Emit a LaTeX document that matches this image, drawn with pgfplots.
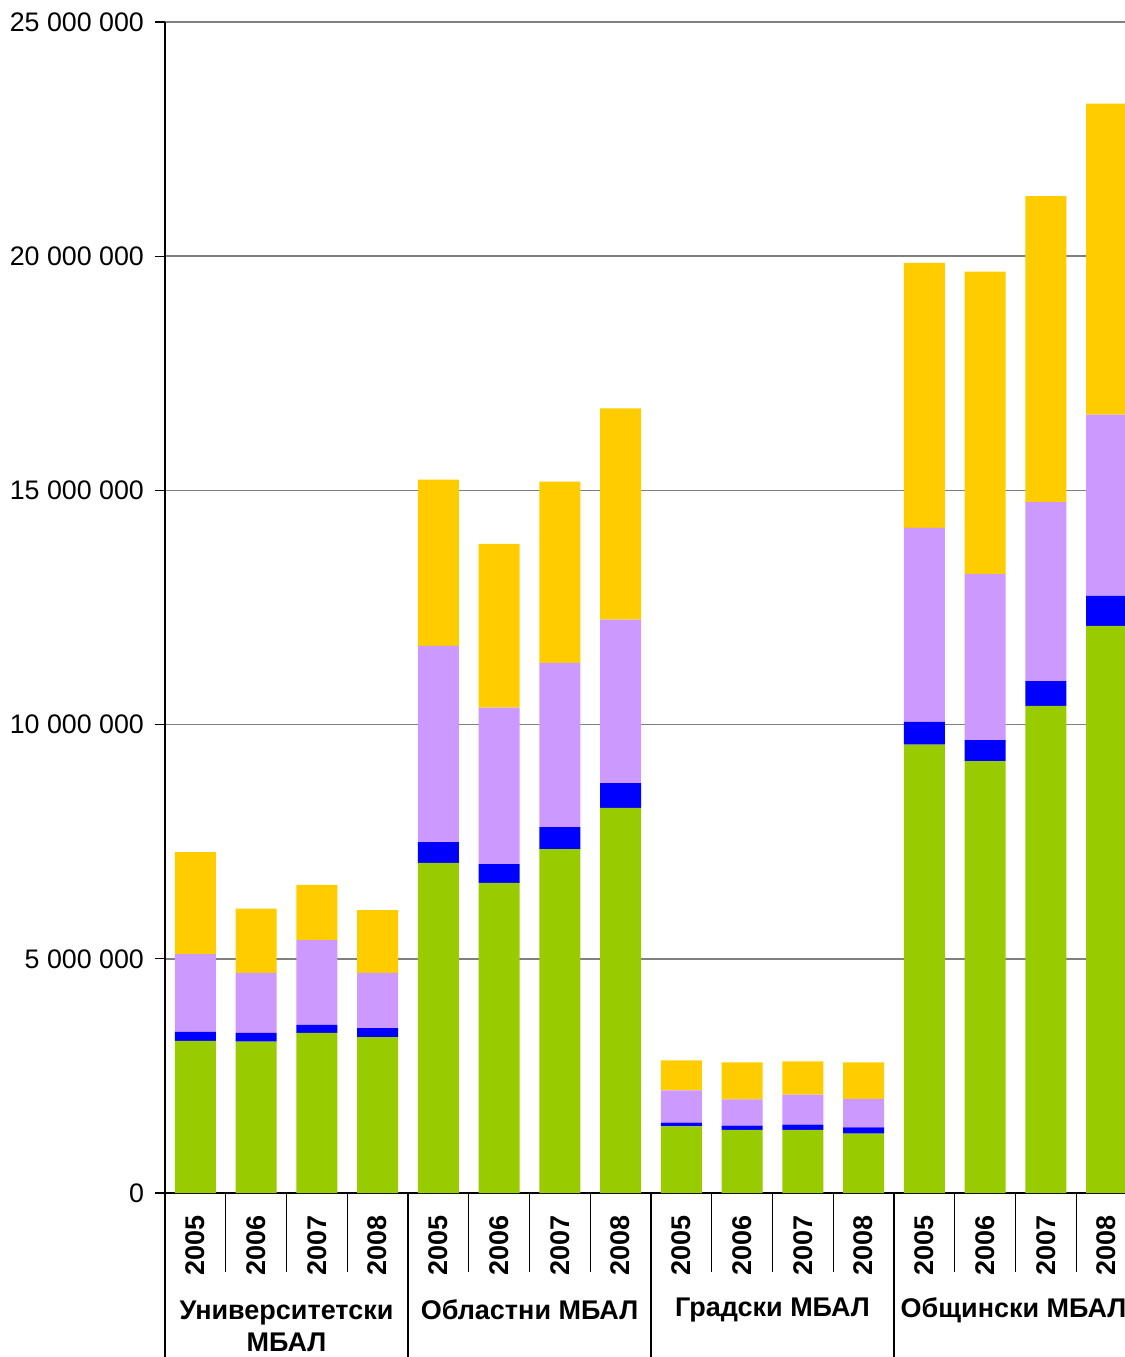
\documentclass[border=0pt]{standalone}
\usepackage{pgfplots}
\pgfplotsset{compat=1.18}
\usepackage{pgfplotstable}
\usepackage{fontspec}
\setmainfont{Liberation Sans}
\definecolor{cgreen}{HTML}{99CC00}
\definecolor{cblue}{HTML}{0000FF}
\definecolor{cpurple}{HTML}{CC99FF}
\definecolor{cyellow}{HTML}{FFCC00}
\definecolor{cgrid}{HTML}{808080}
\pgfplotstableread{
x green blue purple yellow
0 3250000 190000 1660000 2180000
1 3230000 190000 1280000 1370000
2 3420000 170000 1810000 1180000
3 3330000 190000 1180000 1340000
4 7050000 440000 4190000 3550000
5 6620000 400000 3340000 3500000
6 7340000 470000 3510000 3870000
7 8220000 530000 3490000 4510000
8 1420000 80000 690000 640000
9 1350000 90000 560000 790000
10 1350000 110000 640000 710000
11 1270000 130000 610000 780000
12 9570000 490000 4140000 5660000
13 9220000 450000 3540000 6460000
14 10400000 530000 3820000 6530000
15 12110000 640000 3870000 6640000
}\data
\begin{document}
\begin{tikzpicture}
\path[use as bounding box] (-82.5pt,-82pt) rectangle (480pt,596.5pt);
\begin{axis}[
  at={(0,0)}, anchor=south west,
  scale only axis, width=486pt, height=585.5pt,
  clip=false,
  xmin=-0.5, xmax=15.5, ymin=0, ymax=25000000,
  ybar stacked, bar width=20.5pt,
  axis x line*=bottom, axis y line*=left,
  axis line style={black, line width=0.6pt},
  ytick={0,5000000,10000000,15000000,20000000,25000000},
  yticklabels={0,5 000 000,10 000 000,15 000 000,20 000 000,25 000 000},
  ytick align=outside, major tick length=5pt,
  ytick style={black, line width=0.6pt},
  yticklabel style={font=\fontsize{13.4}{15}\selectfont, xshift=-2pt},
  ymajorgrids, major grid style={cgrid, line width=0.7pt},
  xtick={0,...,15},
  xticklabels={2005,2006,2007,2008,2005,2006,2007,2008,2005,2006,2007,2008,2005,2006,2007,2008},
  xtick style={draw=none},
  xticklabel style={rotate=90, anchor=east, xshift=-7.5pt, font=\bfseries\fontsize{13.5}{15}\selectfont},
]
\addplot[fill=cgreen, draw=none] table[x=x, y=green] {\data};
\addplot[fill=cblue, draw=none] table[x=x, y=blue] {\data};
\addplot[fill=cpurple, draw=none] table[x=x, y=purple] {\data};
\addplot[fill=cyellow, draw=none] table[x=x, y=yellow] {\data};
\pgfplotsinvokeforeach{0.5,1.5,2.5,4.5,5.5,6.5,8.5,9.5,10.5,12.5,13.5,14.5}{
  \draw[black, line width=0.5pt] (axis cs:#1,0) -- ([yshift=-39.5pt]axis cs:#1,0);
}
\pgfplotsinvokeforeach{-0.5,3.5,7.5,11.5}{
  \draw[black, line width=0.6pt] (axis cs:#1,0) -- ([yshift=-82pt]axis cs:#1,0);
}
\node[font=\bfseries\fontsize{13.5}{16}\selectfont, align=center, yshift=-66.5pt] at (axis cs:1.5,0) {Университетски\\МБАЛ};
\node[font=\bfseries\fontsize{13.5}{16}\selectfont, yshift=-58.5pt] at (axis cs:5.5,0) {Областни МБАЛ};
\node[font=\bfseries\fontsize{13.5}{16}\selectfont, yshift=-58.5pt] at (axis cs:9.5,0) {Градски МБАЛ};
\node[font=\bfseries\fontsize{13.5}{16}\selectfont, yshift=-58.5pt, xshift=-1pt] at (axis cs:13.5,0) {Общински МБАЛ};
\end{axis}
\end{tikzpicture}
\end{document}
